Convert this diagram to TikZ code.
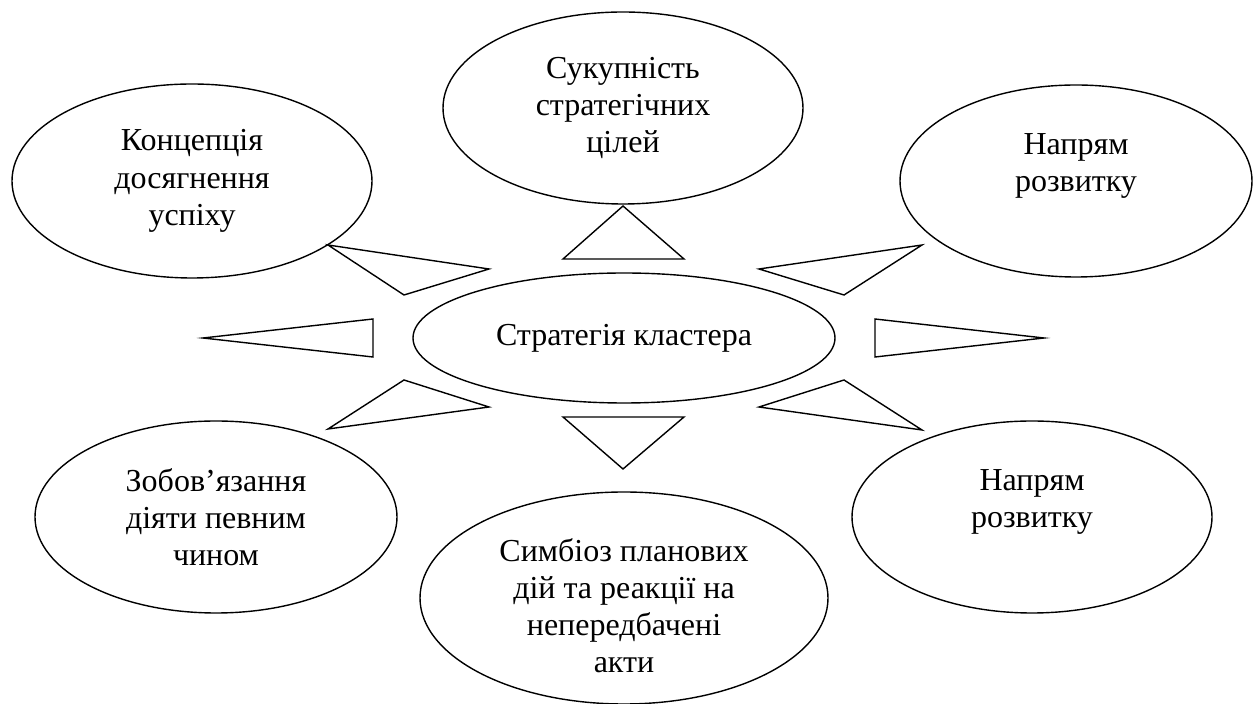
\documentclass[tikz,border=0pt]{standalone}
\usepackage{fontspec}
\setmainfont{Liberation Serif}
\usetikzlibrary{shapes.geometric}

\begin{document}
\begin{tikzpicture}[
  x=0.5pt, y=-0.5pt,
  bubble/.style={ellipse, draw=black, line width=0.7pt, align=center, inner sep=0pt,
    font=\fontsize{16}{18.6}\selectfont, minimum width=180pt, minimum height=96pt},
  wedge/.style={draw=black, line width=0.7pt, line join=miter}
]
\useasboundingbox (0,0) rectangle (1253,704);

% Centre
\node[bubble, minimum width=211pt, minimum height=65pt] (core) at (624,338) {Стратегія кластера};

% Surrounding ellipses
\node[bubble] (goals) at (623,108) {Сукупність\\стратегічних\\цілей};
\node[bubble, minimum height=97pt] (success) at (192,181) {Концепція\\досягнення\\успіху};
\node[bubble, minimum width=176pt] (dirup) at (1076,181) {Напрям\\розвитку\\~};
\node[bubble, minimum width=181pt] (duty) at (216,517) {Зобов’язання\\діяти певним\\чином};
\node[bubble, minimum width=204pt, minimum height=105pt] (symb) at (624,598) {\rule{0pt}{19pt}Симбіоз планових\\дій та реакції на\\непередбачені\\акти};
\node[bubble] (dirdown) at (1032,517) {Напрям\\розвитку\\~};

% Triangles round the centre
\draw[wedge] (623,206) -- (563,259) -- (684,259) -- cycle;
\draw[wedge] (563,417) -- (684,417) -- (623,469) -- cycle;
\draw[wedge] (203,338) -- (373,319) -- (373,357) -- cycle;
\draw[wedge] (875,319) -- (875,357) -- (1044,338) -- cycle;
\draw[wedge] (328,245) -- (489,269) -- (404,295) -- cycle;
\draw[wedge] (404,380) -- (489,407) -- (328,429) -- cycle;
\draw[wedge] (759,269) -- (922,245) -- (844,295) -- cycle;
\draw[wedge] (759,407) -- (844,380) -- (922,430) -- cycle;

\end{tikzpicture}
\end{document}
